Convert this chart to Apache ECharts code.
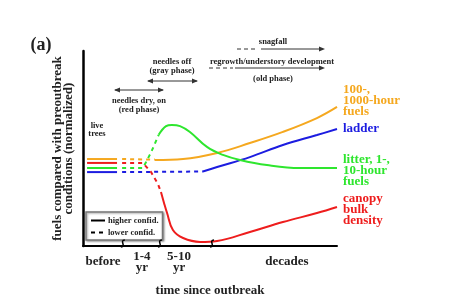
<!DOCTYPE html>
<html>
<head>
<meta charset="utf-8">
<script src="https://cdn.jsdelivr.net/npm/echarts@6/dist/echarts.min.js"></script>
<style>html,body{margin:0;padding:0;background:#fff}#c{width:455px;height:304px}</style>
</head>
<body>
<div id="c"></div>
<script>
// ---- data (normalized units: x 0..100 time, y 0..100 fuel level) ----
const timeLabels = ['before', '1-4\nyr', '5-10\nyr', 'decades'];
const timeLabelPos = [7.9, 23.2, 37.8, 80.3];
const breakPos = [15.7, 30.3, 50.8];

const orangeBefore = [[1.6, 44.6], [13.4, 44.6]];
const orangeUncertain = [[15.4, 44.6], [28.3, 44.3]];
const orangeAfter = [[28.3, 44.1], [39.4, 44.6], [52.8, 47.7], [65.7, 52.8], [78.7, 58.5], [92.1, 65.6], [100, 71.3]];

const blueBefore = [[1.6, 37.9], [13.4, 37.9]];
const blueUncertain = [[15.4, 37.9], [47.2, 38.2]];
const blueAfter = [[47.2, 38.2], [52.8, 40.5], [65.7, 45.6], [78.7, 51.8], [92.1, 56.9], [100, 60.0]];

const greenBefore = [[1.6, 40.0], [13.4, 40.0]];
const greenUncertain = [[15.4, 40.0], [23.6, 40.0], [26.8, 48.0], [29.8, 57.0]];
const greenAfter = [[29.8, 57.0], [32.7, 61.5], [35.0, 62.1], [38.2, 61.5], [42.1, 58.5], [48.8, 50.8], [55.1, 46.7], [61.8, 44.1], [72.4, 41.5], [85.4, 40.0], [100, 40.0]];

const redBefore = [[1.6, 42.6], [13.4, 42.6]];
const redUncertain = [[15.4, 42.6], [23.6, 42.6], [26.8, 37.9], [29.5, 31.8], [30.7, 27.7]];
const redAfter = [[30.7, 27.7], [31.9, 22.1], [33.1, 16.9], [35.4, 8.2], [39.4, 4.1], [46.1, 2.1], [52.8, 2.6], [65.7, 7.2], [78.7, 12.3], [92.1, 16.9], [100, 20.0]];

const seriesNames = ['100-,\n1000-hour\nfuels', 'ladder', 'litter, 1-,\n10-hour\nfuels', 'canopy\nbulk\ndensity'];
const legendNames = ['higher confid.', 'lower confid.'];

// ---- styles ----
const FONT = '"Liberation Serif", "Times New Roman", serif';
const C = { orange: '#f5a81f', blue: '#1c1ce0', green: '#2ee62e', red: '#ee1d1d' };
const DASH = [4, 4];

function seg(data, color, dashed, smooth, endLabel) {
  const s = {
    type: 'line', data: data, symbol: 'none', smooth: smooth, silent: true,
    lineStyle: { color: color, width: 2, type: dashed ? DASH : 'solid' },
    itemStyle: { color: color }, z: 3
  };
  if (endLabel) {
    s.endLabel = Object.assign({
      show: true, color: color, fontFamily: FONT, fontWeight: 'bold', fontSize: 13,
      lineHeight: 11, distance: 6
    }, endLabel);
  }
  return s;
}

const chart = echarts.init(document.getElementById('c'), null, { renderer: 'canvas' });

const txt = (t, x, y, size, extra) => Object.assign({
  type: 'text', x: x, y: y, silent: true,
  style: { text: t, fill: '#222', font: 'bold ' + size + 'px ' + FONT, align: 'center', verticalAlign: 'middle' }
}, extra || {});
const hline = (x1, x2, y, dashed) => ({
  type: 'line', silent: true, shape: { x1: x1, y1: y, x2: x2, y2: y },
  style: { stroke: '#333', lineWidth: 1, lineDash: dashed ? [4, 3] : null }
});
const head = (x, y, dir) => ({
  type: 'polygon', silent: true,
  shape: { points: [[x, y], [x - dir * 6, y - 2.5], [x - dir * 6, y + 2.5]] },
  style: { fill: '#333' }
});

const annotations = [
  txt('(a)', 41, 45, 18),
  txt('live', 97, 126, 8.5), txt('trees', 97, 134, 8.5),
  // needles dry, on (red phase)
  hline(115, 163, 90), head(114, 90, -1), head(164, 90, 1),
  txt('needles dry, on', 139, 101, 8.5), txt('(red phase)', 139, 110, 8.5),
  // needles off (gray phase)
  txt('needles off', 172, 62, 8.5), txt('(gray phase)', 172, 71, 8.5),
  hline(148, 197, 81), head(147, 81, -1), head(198, 81, 1),
  // snagfall
  txt('snagfall', 273, 42, 8.5),
  hline(237, 258, 49, true), hline(261, 320, 49), head(325, 49, 1),
  // regrowth
  txt('regrowth/understory development', 272, 62, 8.5),
  hline(209, 233, 68, true), hline(235, 320, 68), head(325, 68, 1),
  txt('(old phase)', 273, 79, 8.5)
];

const series = [
  seg(orangeBefore, C.orange, false, false),
  seg(orangeUncertain, C.orange, true, false),
  seg(orangeAfter, C.orange, false, 0.4, { formatter: seriesNames[0], offset: [0, -6] }),
  seg(blueBefore, C.blue, false, false),
  seg(blueUncertain, C.blue, true, false),
  seg(blueAfter, C.blue, false, 0.4, { formatter: seriesNames[1], offset: [0, 0] }),
  seg(greenBefore, C.green, false, false),
  seg(greenUncertain, C.green, true, false),
  seg(greenAfter, C.green, false, 0.4, { formatter: seriesNames[2], offset: [0, 3] }),
  seg(redBefore, C.red, false, false),
  seg(redUncertain, C.red, true, false),
  seg(redAfter, C.red, false, 0.4, { formatter: seriesNames[3], offset: [0, 3] }),
  { type: 'line', name: legendNames[0], data: [], symbol: 'none', color: '#000', lineStyle: { color: '#000', width: 2, type: 'solid' } },
  { type: 'line', name: legendNames[1], data: [], symbol: 'none', color: '#000', lineStyle: { color: '#000', width: 2, type: DASH } }
];

chart.setOption({
  animation: false,
  backgroundColor: '#fff',
  grid: { left: 83, right: 118, top: 51, bottom: 58, containLabel: false },
  xAxis: {
    type: 'value', min: 0, max: 100,
    axisLine: { show: true, lineStyle: { color: '#000', width: 2 } },
    axisTick: { show: false }, splitLine: { show: false },
    axisLabel: {
      customValues: timeLabelPos,
      formatter: v => { const i = timeLabelPos.indexOf(v); return i >= 0 ? timeLabels[i] : ''; },
      color: '#222', fontFamily: FONT, fontWeight: 'bold', fontSize: 13, lineHeight: 11,
      verticalAlign: 'middle', margin: 16
    },
    name: 'time since outbreak', nameLocation: 'middle', nameGap: 38,
    nameTextStyle: { color: '#222', fontFamily: FONT, fontWeight: 'bold', fontSize: 13 }
  },
  yAxis: {
    type: 'value', min: 0, max: 100,
    axisLine: { show: true, lineStyle: { color: '#000', width: 2.5 } },
    axisTick: { show: false }, splitLine: { show: false }, axisLabel: { show: false },
    name: 'fuels compared with preoutbreak\nconditions (normalized)',
    nameLocation: 'middle', nameRotate: 90, nameGap: 9,
    nameTextStyle: { color: '#222', fontFamily: FONT, fontWeight: 'bold', fontSize: 13, lineHeight: 11 }
  },
  legend: {
    data: legendNames, orient: 'vertical', left: 86, top: 212,
    itemWidth: 14, itemHeight: 8, itemGap: 3, padding: [4, 4, 3, 4],
    borderColor: '#777', borderWidth: 1.5, backgroundColor: '#fff',
    shadowColor: 'rgba(0,0,0,0.35)', shadowBlur: 2, shadowOffsetX: 1, shadowOffsetY: 1,
    itemStyle: { opacity: 0 },
    textStyle: { color: '#222', fontFamily: FONT, fontWeight: 'bold', fontSize: 8.5, padding: [0, 0, 0, -2] },
    selectedMode: false
  },
  series: series,
  graphic: annotations
});

// axis break marks placed via the axis scale
const breaks = breakPos.map(b => {
  const p = chart.convertToPixel({ gridIndex: 0 }, [b, 0]);
  return {
    type: 'bezierCurve', silent: true, z: 10,
    shape: { x1: p[0] - 2, y1: p[1] + 1, x2: p[0] + 2, y2: p[1] - 6, cpx1: p[0] + 4, cpy1: p[1] + 1, cpx2: p[0] - 4, cpy2: p[1] - 6 },
    style: { stroke: '#000', lineWidth: 1.5, fill: null }
  };
});
chart.setOption({ graphic: annotations.concat(breaks) });
</script>
</body>
</html>
